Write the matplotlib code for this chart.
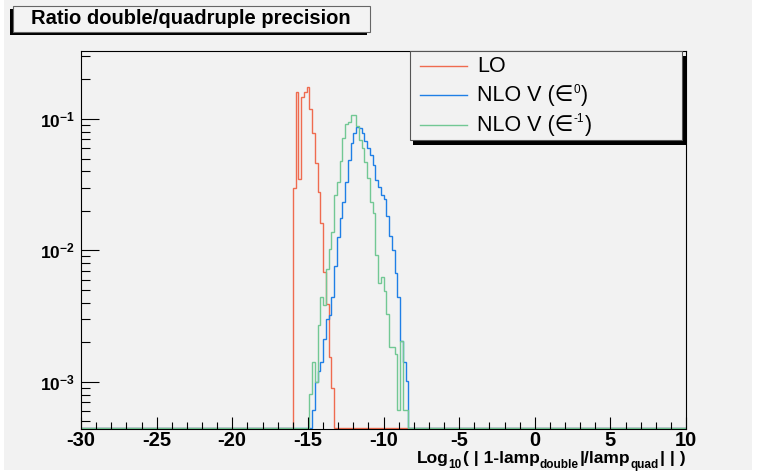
import numpy as np
import matplotlib
matplotlib.use("Agg")
import matplotlib.pyplot as plt
from matplotlib.patches import Rectangle
from matplotlib.lines import Line2D
from matplotlib.ticker import MultipleLocator, FixedLocator, FixedFormatter, NullFormatter, LogLocator

plt.rcParams['font.family'] = ['Liberation Sans', 'DejaVu Sans']
plt.rcParams['mathtext.default'] = 'regular'
plt.rcParams['axes.unicode_minus'] = False

# histogram binning: 220 bins between -30 and 10
nbins = 220
xlo, xhi = -30, 10

# LO, first filled bin index and bin contents
lo_start = 77
lo_vals = [0.030, 0.161, 0.035, 0.148, 0.160, 0.174, 0.119, 0.0787, 0.046,
           0.0279, 0.0162, 0.00684, 0.00394, 0.00155, 0.00089]

# NLO V (eps^0)
nlo0_start = 84
nlo0_vals = [0.00061, 0.00100, 0.00120, 0.00142, 0.0021, 0.0030, 0.0032,
             0.00443, 0.00764, 0.0126, 0.0175, 0.0234, 0.0334, 0.0488, 0.0653,
             0.0778, 0.0873, 0.0849, 0.0778, 0.068, 0.0598, 0.0532, 0.0446,
             0.0343, 0.0302, 0.0264, 0.0246, 0.0182, 0.01285, 0.01005, 0.00668,
             0.00443, 0.00203, 0.00142, 0.00102]

# NLO V (eps^-1)
nlo1_start = 83
nlo1_vals = [0.00081, 0.00142, 0.00100, 0.0027, 0.00443, 0.00383, 0.00716,
             0.0103, 0.0139, 0.0264, 0.0334, 0.0479, 0.0713, 0.0916, 0.0954,
             0.107, 0.107, 0.0885, 0.0692, 0.0598, 0.0473, 0.0353, 0.0234,
             0.0191, 0.0092, 0.00567, 0.00622, 0.00492, 0.00327, 0.00185,
             0.00185, 0.00164, 0.00061, 0.00203, 0.00061, 0.00061]

labels = ['LO', 'NLO V (\u2208', 'NLO V (\u2208']
label_sups = ['', '0', '-1']
colors = ['#ef6b4f', '#1f7fe6', '#72c894']

ytick_vals = [1e-3, 1e-2, 1e-1]
ytick_labels = ['10$^{-3}$', '10$^{-2}$', '10$^{-1}$']

W, H = 757, 474
fig = plt.figure(figsize=(W / 100, H / 100), dpi=100, facecolor='white')
renderer = fig.canvas.get_renderer()

def fx(px):
    return px / W

def fy(py):
    return 1 - py / H

def fig_rect(x0, y0, x1, y1, **kw):
    r = Rectangle((fx(x0), fy(y1)), fx(x1) - fx(x0), fy(y0) - fy(y1),
                  transform=fig.transFigure, **kw)
    fig.patches.append(r)
    return r

def runs_text(x, y, runs, ha='left', **kw):
    # runs: (string, fontsize, raise in px, gap before in px)
    parts = []
    for s, fs, dy, gap in runs:
        t = fig.text(0, 0, s, fontsize=fs, ha='left', va='baseline', **kw)
        w = t.get_window_extent(renderer).width
        parts.append((t, dy, gap, w))
    total = sum(p[2] + p[3] for p in parts)
    x0 = x - total if ha == 'right' else x
    for t, dy, gap, w in parts:
        x0 += gap
        t.set_position((fx(x0), fy(y - dy)))
        x0 += w

# canvas
fig_rect(4, 0, 752, 470, facecolor='#f2f2f2', edgecolor='none', zorder=-10)

ax = fig.add_axes([fx(81), fy(429.3), fx(686) - fx(81), fy(50.7) - fy(429.3)])
ax.set_facecolor('#f2f2f2')
ax.set_yscale('log')
ax.set_xlim(xlo, xhi)
ax.set_ylim(4.35e-4, 0.331)

edges = np.linspace(xlo, xhi, nbins + 1)
floor = 4.42e-4

for start, vals, col in [(lo_start, lo_vals, colors[0]),
                         (nlo0_start, nlo0_vals, colors[1]),
                         (nlo1_start, nlo1_vals, colors[2])]:
    h = np.zeros(nbins)
    h[start:start + len(vals)] = vals
    h = np.maximum(h, floor)
    ax.stairs(h, edges, color=col, lw=1.0, baseline=None)

for s in ax.spines.values():
    s.set_color('black')
    s.set_linewidth(0.8)

ax.xaxis.set_major_locator(MultipleLocator(5))
ax.xaxis.set_minor_locator(MultipleLocator(1))
ax.yaxis.set_major_locator(FixedLocator(ytick_vals))
ax.yaxis.set_major_formatter(FixedFormatter(ytick_labels))
ax.yaxis.set_minor_locator(LogLocator(base=10, subs=np.arange(2, 10)))
ax.yaxis.set_minor_formatter(NullFormatter())

ax.tick_params(axis='x', which='major', direction='in', length=9, width=0.8,
               pad=1.5, labelsize=14.5)
ax.tick_params(axis='x', which='minor', direction='in', length=4.8, width=0.8)
ax.tick_params(axis='y', which='major', direction='in', length=13, width=0.8,
               pad=4.5, labelsize=12.5)
ax.tick_params(axis='y', which='minor', direction='in', length=6.5, width=0.8)
for lab in ax.get_xticklabels() + ax.get_yticklabels():
    lab.set_fontweight('bold')

# axis title
runs_text(686, 463, [('Log', 12.5, 0, 0), ('10', 8.5, -5, 0),
                     ('( | 1-lamp', 12.5, 0, 1), ('double', 8.5, -5, 0),
                     ('|/lamp', 12.5, 0, 1), ('quad', 8.5, -5, 0),
                     ('| | )', 12.5, 0, 2)],
          ha='right', fontweight='bold')

# title box with shadow
fig_rect(10, 9, 367, 34.5, facecolor='black', edgecolor='none', zorder=2)
fig_rect(13, 6, 370, 31.5, facecolor='#f3f3f3', edgecolor='#666666',
         linewidth=0.8, zorder=3)
fig.text(fx(191), fy(19), 'Ratio double/quadruple precision', ha='center',
         va='center', fontsize=14.5, fontweight='bold', zorder=4)

# legend box with shadow
fig_rect(413.5, 56, 686, 144.5, facecolor='black', edgecolor='none', zorder=5)
fig_rect(409.5, 51, 682, 139.5, facecolor='#f2f2f2', edgecolor='#555555',
         linewidth=0.8, zorder=6)
rows = [72, 101, 130.5]
for lab, sup, col, yy in zip(labels, label_sups, colors, rows):
    fig.lines.append(Line2D([fx(420), fx(467)], [fy(yy - 6), fy(yy - 6)],
                            color=col, lw=1.0, transform=fig.transFigure,
                            zorder=7))
    if sup:
        runs_text(477, yy, [(lab, 15.5, 0, 0), (sup, 8.5, 8, 0), (')', 15.5, 0, 1)],
                  zorder=7)
    else:
        runs_text(477, yy, [(lab, 15.5, 0, 0)], zorder=7)

fig.savefig('out.png', dpi=100, facecolor=fig.get_facecolor())
